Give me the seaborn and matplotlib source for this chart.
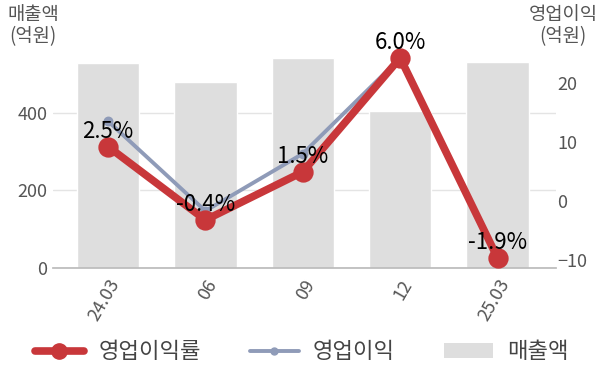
import matplotlib
matplotlib.use("Agg")
import matplotlib.pyplot as plt
import seaborn as sns
import pandas as pd
from matplotlib.lines import Line2D
from matplotlib.patches import Patch

periods = ["24.03", "06", "09", "12", "25.03"]
revenue = [527, 478, 540, 404, 530]          # 매출액 (억원)
op_profit = [13.5, -1.7, 8.0, 24.2, -10.1]   # 영업이익 (억원)
op_margin = [2.5, -0.4, 1.5, 6.0, -1.9]      # 영업이익률 (%)
margin_labels = ["2.5%", "-0.4%", "1.5%", "6.0%", "-1.9%"]

df = pd.DataFrame({"period": periods, "revenue": revenue,
                   "op_profit": op_profit, "op_margin": op_margin})

sns.set_theme(style="white")
plt.rcParams["font.family"] = ["Noto Sans CJK KR", "DejaVu Sans"]

RED = "#c8373a"
BLUE = "#8f9bb8"
BAR = "#dedede"
TXT = "#555555"

fig = plt.figure(figsize=(6.0, 3.83), dpi=100)
ax = fig.add_axes([0.0883, 0.3003, 0.8384, 0.5822])

sns.barplot(data=df, x="period", y="revenue", color=BAR, width=0.64,
            saturation=1, ax=ax, zorder=1)
ax.set_ylim(0, 574)
ax.set_yticks([0, 200, 400])
ax.grid(axis="y", color="#e4e4e4", linewidth=1)
ax.set_axisbelow(True)
for s in ["top", "right", "left"]:
    ax.spines[s].set_visible(False)
ax.spines["bottom"].set_color("#bbbbbb")
ax.set_xlabel("")
ax.set_ylabel("")

ax2 = ax.twinx()
sns.pointplot(data=df, x="period", y="op_profit", color=BLUE, ax=ax2,
              markers="o", markersize=5, linewidth=2.8)
ax2.set_ylim(-11.36, 26.4)
ax2.set_yticks([-10, 0, 10, 20])
ax2.set_ylabel("")
for s in ax2.spines.values():
    s.set_visible(False)

ax3 = ax.twinx()
sns.pointplot(data=df, x="period", y="op_margin", color=RED, ax=ax3,
              markers="o", markersize=10.5, linewidth=5.5)
for c in ax3.collections + ax3.lines:
    c.set_clip_on(False)
ax3.set_ylim(-2.295, 6.51)
ax3.set_yticks([])
ax3.set_ylabel("")
for s in ax3.spines.values():
    s.set_visible(False)
for i, (v, lab) in enumerate(zip(op_margin, margin_labels)):
    ax3.annotate(lab, (i, v), xytext=(0, 11), textcoords="offset points",
                 ha="center", va="center", fontsize=16, color="black")

for a in (ax, ax2, ax3):
    a.set_xlim(-0.565, 4.6)

ax.set_xticks(range(len(periods)))
ax.set_xticklabels(periods, rotation=60, ha="right", rotation_mode="anchor")
ax.tick_params(axis="x", colors=TXT, labelsize=13, length=0, pad=6)
ax.tick_params(axis="y", colors=TXT, labelsize=13, length=0, pad=4)
ax2.tick_params(axis="y", colors=TXT, labelsize=13, length=0, pad=1)
ax2.set_xlabel("")
ax3.set_xlabel("")

fig.text(0.055, 0.99, "매출액\n(억원)", ha="center", va="top",
         fontsize=13.5, color=TXT, linespacing=1.1)
fig.text(0.938, 0.99, "영업이익\n(억원)", ha="center", va="top",
         fontsize=13.5, color=TXT, linespacing=1.1)

handles = [
    Line2D([0], [0], color=RED, lw=5.5, marker="o", markersize=11),
    Line2D([0], [0], color=BLUE, lw=2.8, marker="o", markersize=5),
    Patch(facecolor=BAR, edgecolor="none"),
]
fig.legend(handles, ["영업이익률", "영업이익", "매출액"], loc="center",
           bbox_to_anchor=(0.503, 0.081), ncol=3, frameon=False,
           fontsize=16, handlelength=2.2, handletextpad=0.65,
           columnspacing=2.2, labelcolor="#444444")

fig.savefig("out.png", dpi=100)
